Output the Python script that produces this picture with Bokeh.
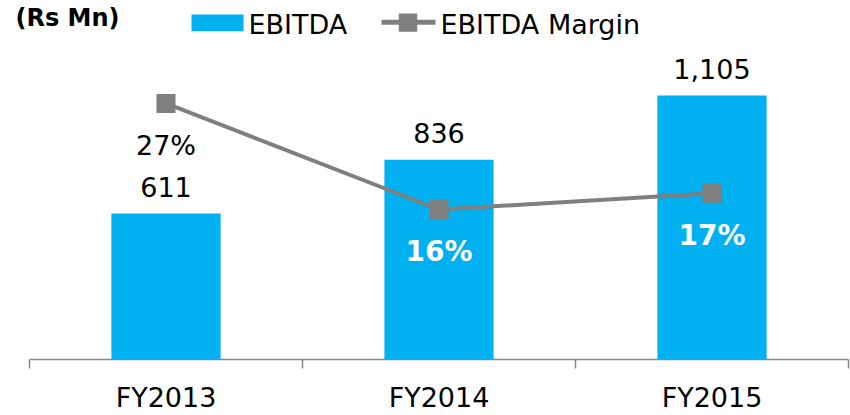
from bokeh.plotting import figure
from bokeh.models import (ColumnDataSource, Range1d, LinearAxis, FixedTicker, Label,
                          BoxAnnotation)
from bokeh.core.properties import value, field
from bokeh.embed import file_html
from bokeh.resources import INLINE

# ---- data ----
categories = ["FY2013", "FY2014", "FY2015"]
ebitda = [611, 836, 1105]
ebitda_margin = [26.8, 15.7, 17.4]
series_names = ["EBITDA", "EBITDA Margin"]
unit_label = "(Rs Mn)"

# ---- styles ----
FONT = "DejaVu Sans"
BLUE = "#00B0F0"
GREY = "#7F7F7F"
AXIS_GREY = "#888888"
margin_label_colors = ["#000000", "#FFFFFF", "#FFFFFF"]
margin_label_styles = ["normal", "bold", "bold"]
margin_label_sizes = ["27px", "28px", "28px"]

# ---- layout (pixels) ----
W, H = 850, 415
AXIS_LEFT_PX = 29      # where the category axis begins
CAT_PX = 273           # width of one category slot
BASE = 361             # value 0 (px from top)
FB = 371               # frame bottom (px from top)
PX_PER_UNIT = 0.2402   # px per Rs Mn
PX_PER_PCT = 9.61      # px per % point
TXT_SHIFT = 9          # baseline correction for text rendering

n = len(categories)
pos = list(range(n))                       # category slot centres
x_start = -0.5 - AXIS_LEFT_PX / CAT_PX
x_end = x_start + W / CAT_PX
y_min = -(FB - BASE) / PX_PER_UNIT
y_max = BASE / PX_PER_UNIT
p_min = -(FB - BASE) / PX_PER_PCT
p_max = BASE / PX_PER_PCT

p = figure(width=W, height=H, x_range=Range1d(x_start, x_end), y_range=Range1d(y_min, y_max),
           output_backend="svg", toolbar_location=None,
           x_axis_location=None, y_axis_location=None,
           min_border_left=0, min_border_right=0, min_border_top=0,
           min_border_bottom=H - FB, outline_line_color=None)
p.xgrid.visible = False
p.ygrid.visible = False
p.extra_y_ranges = {"pct": Range1d(p_min, p_max)}

cat_axis = LinearAxis(ticker=FixedTicker(ticks=pos, minor_ticks=[]),
                      major_label_overrides={i: c for i, c in zip(pos, categories)},
                      axis_line_color=None, major_tick_line_color=None,
                      minor_tick_line_color=None,
                      major_tick_in=0, major_tick_out=0, minor_tick_in=0, minor_tick_out=0,
                      major_label_standoff=12,
                      major_label_text_font=FONT,
                      major_label_text_font_size="27px",
                      major_label_text_color="#000000")
p.add_layout(cat_axis, "below")

# axis baseline and category-boundary ticks
bounds = [i - 0.5 for i in range(n + 1)]
p.segment(x0=[bounds[0]], x1=[bounds[-1]], y0=[0], y1=[0],
          line_color=AXIS_GREY, line_width=1.5)
p.segment(x0=bounds, x1=bounds, y0=[0] * len(bounds), y1=[-9 / PX_PER_UNIT] * len(bounds),
          line_color=AXIS_GREY, line_width=1.5)

src = ColumnDataSource(dict(
    x=pos,
    cat=categories,
    ebitda=ebitda,
    margin=ebitda_margin,
    ebitda_txt=[f"{v:,}" for v in ebitda],
    margin_txt=[f"{m:.0f}%" for m in ebitda_margin],
    mcolor=margin_label_colors,
    mstyle=margin_label_styles,
    msize=margin_label_sizes,
))

p.vbar(x="x", top="ebitda", bottom=0, width=0.4, source=src, fill_color=BLUE, line_color=None)
p.line(x="x", y="margin", y_range_name="pct", source=src, line_color=GREY, line_width=4)
p.scatter(x="x", y="margin", y_range_name="pct", source=src, marker="square",
          size=19, fill_color=GREY, line_color=None)

p.text(x="x", y="ebitda", text="ebitda_txt", source=src, text_align="center",
       text_baseline="alphabetic", y_offset=-18 - TXT_SHIFT, text_font=value(FONT),
       text_font_size="27px", text_color="#000000")
p.text(x="x", y="margin", y_range_name="pct", text="margin_txt", source=src,
       text_align="center", text_baseline="alphabetic", y_offset=51 - TXT_SHIFT,
       text_font=value(FONT), text_font_size=field("msize"),
       text_color=field("mcolor"), text_font_style=field("mstyle"))

# ---- unit label & legend (screen units relative to frame bottom-left) ----
def sx(x):
    return x

def sy(y):
    return FB - y

def box(l, r, t, b, color):
    return BoxAnnotation(left=sx(l), right=sx(r), top=sy(t), bottom=sy(b),
                         left_units="screen", right_units="screen",
                         top_units="screen", bottom_units="screen",
                         fill_color=color, fill_alpha=1, line_color=None)

p.add_layout(Label(x=sx(15), y=sy(26.7 - 7), x_units="screen", y_units="screen",
                   text=unit_label, text_font=FONT, text_font_size="24px",
                   text_font_style="bold", text_color="#000000",
                   text_align="left", text_baseline="alphabetic"))

p.add_layout(box(191, 243, 16, 32.7, BLUE))
p.add_layout(Label(x=sx(248), y=sy(34.3 - 8), x_units="screen", y_units="screen",
                   text=series_names[0], text_font=FONT, text_font_size="27px",
                   text_color="#000000", text_align="left", text_baseline="alphabetic"))

p.add_layout(box(381, 435, 21.2, 26.2, GREY))
p.add_layout(box(398.3, 416.7, 15, 33.3, GREY))
p.add_layout(Label(x=sx(440), y=sy(34.3 - 8), x_units="screen", y_units="screen",
                   text=series_names[1], text_font=FONT, text_font_size="27px",
                   text_color="#000000", text_align="left", text_baseline="alphabetic"))

open("out.html", "w").write(file_html(p, INLINE))
